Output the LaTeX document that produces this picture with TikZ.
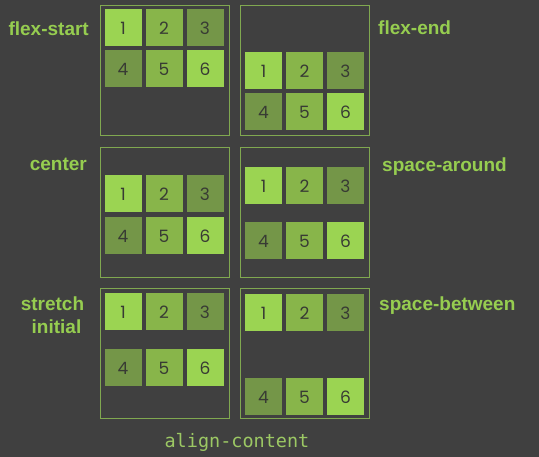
\documentclass[tikz,border=0pt]{standalone}
\usepackage{fontspec}
\setmainfont{Liberation Sans}
\setmonofont{DejaVu Sans Mono}
\newfontfamily\digitfont{Poppins}
\usepackage{xcolor}
\definecolor{bgdark}{HTML}{404040}
\definecolor{lightgr}{HTML}{9BD452}
\definecolor{midgr}{HTML}{88B54A}
\definecolor{darkgr}{HTML}{749648}
\definecolor{framegr}{HTML}{80A850}
\definecolor{labelgr}{HTML}{96CD50}
\definecolor{capgr}{HTML}{9CC864}
\definecolor{digitgray}{HTML}{383B34}

\begin{document}
\begin{tikzpicture}[x=1pt,y=-1pt,
  box/.style={draw=framegr,line width=1pt},
  item/.style={minimum size=37pt,inner sep=0pt,text=digitgray,text depth=0pt,
    text height=13.5pt,font=\digitfont\fontsize{17}{17}\selectfont},
  lt/.style={item,fill=lightgr},
  md/.style={item,fill=midgr},
  dk/.style={item,fill=darkgr},
  lbl/.style={text=labelgr,inner sep=0pt,font=\bfseries\fontsize{19}{19}\selectfont}]
\fill[bgdark] (0,0) rectangle (539,457);
\useasboundingbox (0,0) rectangle (539,457);
% flex-start
\draw[box] (100,6) rectangle (229,136);
\node[lt] (fs1) at (123,28) {1};
\node[md] (fs2) at (164,28) {2};
\node[dk] (fs3) at (205,28) {3};
\node[dk] (fs4) at (123,68.5) {4};
\node[md] (fs5) at (164,68.5) {5};
\node[lt] (fs6) at (205,68.5) {6};
\node[lbl,anchor=base east] (lfs) at (89,36) {flex-start};
% flex-end
\draw[box] (240,6) rectangle (369,136);
\node[lt] (fe1) at (263.5,70.5) {1};
\node[md] (fe2) at (304.5,70.5) {2};
\node[dk] (fe3) at (345.5,70.5) {3};
\node[dk] (fe4) at (263.5,112) {4};
\node[md] (fe5) at (304.5,112) {5};
\node[lt] (fe6) at (345.5,112) {6};
\node[lbl,anchor=base west] (lfe) at (378,35) {flex-end};
% center
\draw[box] (100,148) rectangle (229,278);
\node[lt] (ce1) at (123,194) {1};
\node[md] (ce2) at (164,194) {2};
\node[dk] (ce3) at (205,194) {3};
\node[dk] (ce4) at (123,235.5) {4};
\node[md] (ce5) at (164,235.5) {5};
\node[lt] (ce6) at (205,235.5) {6};
\node[lbl,anchor=base east] (lce) at (87,171) {center};
% space-around
\draw[box] (240,148) rectangle (369,278);
\node[lt] (sa1) at (263.5,186) {1};
\node[md] (sa2) at (304.5,186) {2};
\node[dk] (sa3) at (345.5,186) {3};
\node[dk] (sa4) at (263.5,240.5) {4};
\node[md] (sa5) at (304.5,240.5) {5};
\node[lt] (sa6) at (345.5,240.5) {6};
\node[lbl,anchor=base west] (lsa) at (382,171.5) {space-around};
% stretch / initial
\draw[box] (100,289) rectangle (229,419);
\node[lt] (st1) at (123,312) {1};
\node[md] (st2) at (164,312) {2};
\node[dk] (st3) at (205,312) {3};
\node[dk] (st4) at (123,367.5) {4};
\node[md] (st5) at (164,367.5) {5};
\node[lt] (st6) at (205,367.5) {6};
\node[lbl,anchor=base] (lst) at (52.5,310.5) {stretch};
\node[lbl,anchor=base] (lin) at (56.5,334) {initial};
% space-between
\draw[box] (240,289) rectangle (369,419);
\node[lt] (sb1) at (263.5,313) {1};
\node[md] (sb2) at (304.5,313) {2};
\node[dk] (sb3) at (345.5,313) {3};
\node[dk] (sb4) at (263.5,396.5) {4};
\node[md] (sb5) at (304.5,396.5) {5};
\node[lt] (sb6) at (345.5,396.5) {6};
\node[lbl,anchor=base west] (lsb) at (379,311) {space-between};
% caption
\node[text=capgr,inner sep=0pt,anchor=base,font=\ttfamily\fontsize{18.5}{18.5}\selectfont] (cap) at (237,447.5) {align-content};
\end{tikzpicture}
\end{document}
